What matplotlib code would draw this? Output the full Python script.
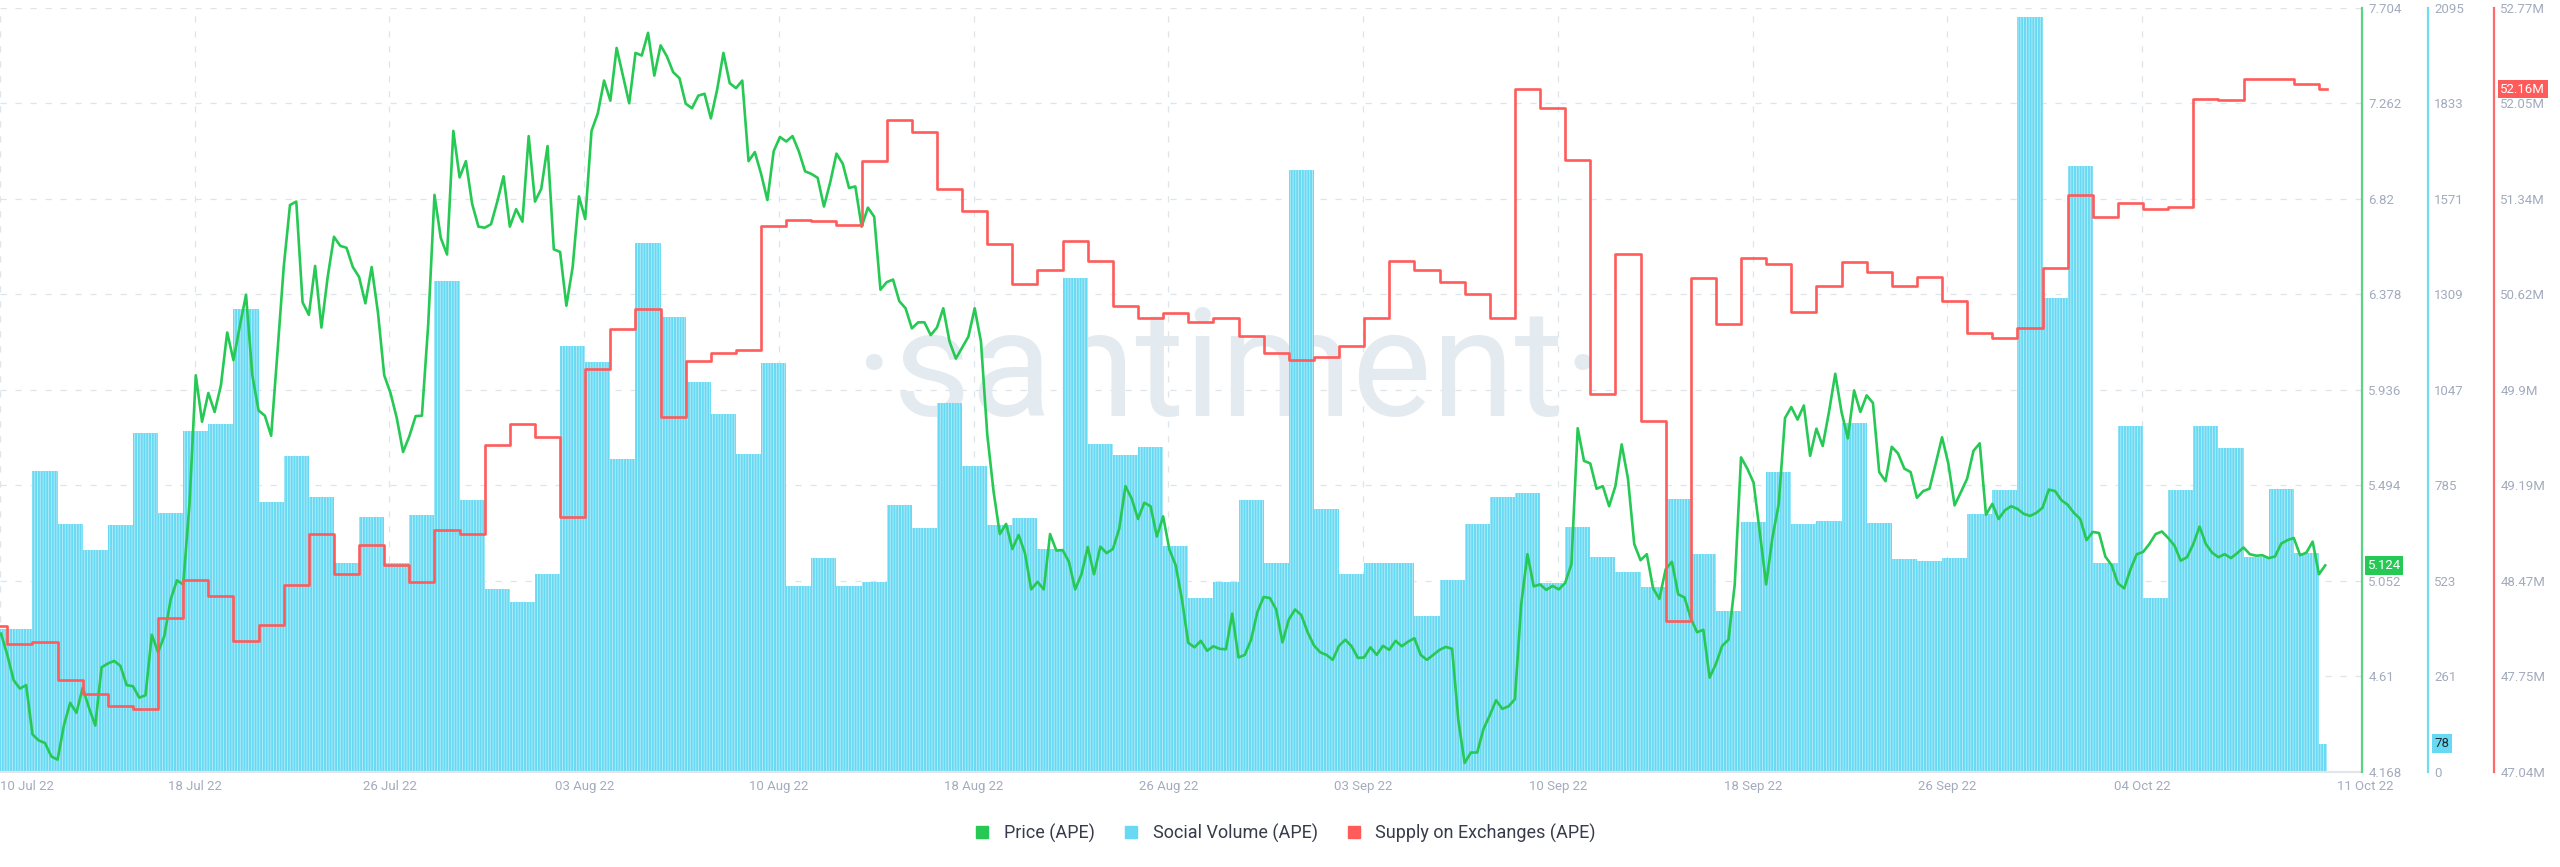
import numpy as np
import pandas as pd
import matplotlib
matplotlib.use("Agg")
import matplotlib.pyplot as plt
import matplotlib.dates as mdates
from matplotlib.lines import Line2D

plt.rcParams['font.family'] = ['Roboto', 'DejaVu Sans']
plt.rcParams['hatch.linewidth'] = 0.6

# social volume (APE), one value per day, 10 Jul 2022 .. 11 Oct 2022 (last day partial)
social_start = "2022-07-10"
social_end = "2022-10-11 08:00"
social_volume = [
    392, 392, 825, 680, 609, 677, 929, 710, 935, 954, 1269, 740, 866, 754, 573, 699,
    573, 705, 1346, 746, 502, 466,
    543, 1168, 1124, 858, 1451, 1248, 1069, 982, 872, 1121, 510, 587, 510, 521, 732,
    669, 1012, 839, 677, 697, 611, 1355, 899, 869, 891, 620, 477, 521, 746, 573, 1651,
    721, 543, 573, 573, 428, 526, 680, 754, 765, 518, 672, 590, 548, 507, 749, 598,
    441, 686, 823, 680, 688, 957, 683, 584, 579, 587, 707, 773, 2071, 1300,
    1661, 573, 949, 477, 773, 949, 888, 590, 776, 600, 78,
]

# supply on exchanges (APE), millions, same days
supply = [
    48.13, 48.00, 48.01, 47.73, 47.62, 47.53, 47.51, 48.19, 48.48, 48.36, 48.02, 48.14,
    48.44, 48.82, 48.52, 48.74, 48.59, 48.46, 48.85, 48.82, 49.49, 49.65,
    49.55, 48.95, 50.06, 50.36, 50.51, 49.70, 50.12, 50.18, 50.20, 51.13, 51.18, 51.17,
    51.14, 51.62, 51.93, 51.84, 51.41, 51.25, 51.00, 50.70, 50.80, 51.02, 50.87, 50.53,
    50.44, 50.48, 50.41, 50.44, 50.31, 50.18, 50.13,
    50.15, 50.23, 50.44, 50.87, 50.80, 50.71, 50.62, 50.44, 52.16, 52.02, 51.63, 49.87,
    50.92, 49.67, 48.17, 50.74, 50.40, 50.89, 50.85, 50.49, 50.68, 50.86, 50.79, 50.68,
    50.75, 50.57, 50.33, 50.29, 50.37, 50.82,
    51.37, 51.20, 51.31, 51.26, 51.28, 52.09, 52.08, 52.24, 52.24, 52.20, 52.16,
]

# price (APE) in USD, every 6 hours from 10 Jul 2022 18:00
price_start = "2022-07-10 18:00"
price = [
    4.808, 4.710, 4.593, 4.554, 4.570, 4.342, 4.314, 4.302, 4.240, 4.225,
    4.383, 4.488, 4.442, 4.558, 4.465, 4.383, 4.652, 4.670, 4.682, 4.659,
    4.570, 4.565, 4.512, 4.523, 4.803, 4.722, 4.798, 4.966, 5.055, 5.036,
    5.409, 6.004, 5.789, 5.922, 5.834, 5.957, 6.202, 6.074, 6.230, 6.377,
    6.004, 5.841, 5.817, 5.724, 6.109, 6.505, 6.792, 6.808, 6.342, 6.284,
    6.510, 6.225, 6.459, 6.645, 6.603, 6.594, 6.505, 6.459, 6.337, 6.505,
    6.295, 6.004, 5.922, 5.806, 5.649, 5.722, 5.815, 5.817, 6.237, 6.839,
    6.640, 6.563, 7.135, 6.920, 6.995, 6.797, 6.692, 6.687, 6.703, 6.808,
    6.925, 6.692, 6.773, 6.715, 7.111, 6.808, 6.867, 7.065, 6.587, 6.575,
    6.326, 6.505, 6.832, 6.727, 7.135, 7.216, 7.368, 7.275, 7.519, 7.391,
    7.263, 7.496, 7.484, 7.589, 7.391, 7.531, 7.480, 7.407, 7.379, 7.261,
    7.240, 7.298, 7.307, 7.193, 7.326, 7.496, 7.356, 7.333, 7.368, 6.995,
    7.037, 6.936, 6.815, 7.041, 7.107, 7.086, 7.111, 7.041, 6.948, 6.936,
    6.918, 6.785, 6.897, 7.030, 6.983, 6.871, 6.878, 6.692, 6.780, 6.738,
    6.400, 6.435, 6.447, 6.347, 6.314, 6.221, 6.249, 6.249, 6.190, 6.225,
    6.314, 6.160, 6.081, 6.132, 6.183, 6.314, 6.160, 5.731, 5.468, 5.269,
    5.316, 5.200, 5.265, 5.181, 5.013, 5.048, 5.013, 5.269, 5.193, 5.195,
    5.141, 5.013, 5.083, 5.209, 5.083, 5.211, 5.181, 5.200, 5.293, 5.491,
    5.433, 5.339, 5.414, 5.398, 5.258, 5.351, 5.197, 5.125, 4.966, 4.766,
    4.745, 4.775, 4.729, 4.750, 4.738, 4.736, 4.901, 4.698, 4.710, 4.780,
    4.908, 4.978, 4.973, 4.920, 4.768, 4.873, 4.920, 4.894, 4.815, 4.754,
    4.722, 4.710, 4.687, 4.752, 4.780, 4.750, 4.696, 4.698, 4.745, 4.710,
    4.752, 4.733, 4.775, 4.750, 4.771, 4.787, 4.710, 4.687, 4.710, 4.733,
    4.747, 4.738, 4.407, 4.210, 4.258, 4.258, 4.367, 4.430, 4.500, 4.460,
    4.472, 4.505, 4.943, 5.176, 5.027, 5.036, 5.011, 5.029, 5.013, 5.043,
    5.130, 5.759, 5.608, 5.596, 5.479, 5.491, 5.398, 5.491, 5.684, 5.526,
    5.223, 5.148, 5.176, 5.018, 4.969, 5.106, 5.141, 4.990, 4.976, 4.880,
    4.815, 4.826, 4.605, 4.668, 4.752, 4.780, 5.036, 5.624, 5.572, 5.507,
    5.274, 5.036, 5.253, 5.409, 5.806, 5.857, 5.799, 5.864, 5.631, 5.757,
    5.677, 5.834, 6.011, 5.834, 5.712, 5.934, 5.834, 5.911, 5.876, 5.556,
    5.514, 5.673, 5.642, 5.572, 5.556, 5.437, 5.468, 5.479, 5.596, 5.717,
    5.596, 5.402, 5.463, 5.526, 5.654, 5.689, 5.358, 5.409, 5.339, 5.379,
    5.398, 5.386, 5.363, 5.353, 5.367, 5.391, 5.475, 5.468, 5.426, 5.405,
    5.367, 5.339, 5.241, 5.279, 5.274, 5.165, 5.125, 5.041, 5.018, 5.106,
    5.176, 5.186, 5.223, 5.269, 5.281, 5.251, 5.216, 5.146, 5.162, 5.223,
    5.304, 5.223, 5.183, 5.162, 5.176, 5.158, 5.181, 5.207, 5.176, 5.169,
    5.171, 5.158, 5.165, 5.225, 5.241, 5.251, 5.171, 5.183, 5.234, 5.083,
    5.124,
]

date_labels = ["10 Jul 22", "18 Jul 22", "26 Jul 22", "03 Aug 22", "10 Aug 22",
               "18 Aug 22", "26 Aug 22", "03 Sep 22", "10 Sep 22", "18 Sep 22",
               "26 Sep 22", "04 Oct 22", "11 Oct 22"]

GREEN = '#26c953'
CYAN = '#68d9f3'
RED = '#ff5b5b'
TICK = '#a3abbd'
GRID = '#dde5eb'

fig = plt.figure(figsize=(25.6, 8.67), dpi=100)
ax = fig.add_axes([0.0, 0.1096, 0.9227, 0.8812])
ax_p = ax.twinx()
ax_s = ax.twinx()

# social volume bars (daily)
days = pd.date_range(social_start, periods=len(social_volume), freq='D')
widths = np.ones(len(days))
widths[-1] = (pd.Timestamp(social_end) - days[-1]) / pd.Timedelta('1D')
ax.bar(mdates.date2num(days), social_volume, width=widths, align='edge',
       color=CYAN, edgecolor='#b8edfa', linewidth=0, hatch='||||||', zorder=2)

# supply step line
sx = mdates.date2num(list(days) + [pd.Timestamp(social_end)])
sy = supply + [supply[-1]]
ax_s.plot(sx, sy, drawstyle='steps-post', color=RED, lw=1.9)

# price
ptimes = pd.date_range(price_start, periods=len(price), freq='6h')
ax_p.plot(mdates.date2num(ptimes), price, color=GREEN, lw=1.9, solid_joinstyle='round')

x0 = mdates.date2num(pd.Timestamp('2022-07-10 17:00'))
x1 = mdates.date2num(pd.Timestamp('2022-10-12 17:15'))
ax.set_xlim(x0, x1)
xt = np.linspace(x0, mdates.date2num(pd.Timestamp('2022-10-11 17:15')), len(date_labels))
ax.set_xticks(xt)
ax.set_xticklabels(date_labels)
lbls = ax.get_xticklabels()
lbls[0].set_ha('left')
lbls[-1].set_ha('left')
ax.tick_params(axis='x', length=0, pad=6, labelsize=9.5, labelcolor=TICK)

# y axes
ax.set_ylim(0, 2095)
yt = np.linspace(0, 2095, 9)
ax.set_yticks(yt)
ax.set_yticklabels([str(int(v)) for v in yt])

ax_p.set_ylim(4.168, 7.704)
pt = np.linspace(4.168, 7.704, 9)
ax_p.set_yticks(pt)
ax_p.set_yticklabels([f"{round(v, 3):g}" for v in pt])

ax_s.set_ylim(47.036, 52.77)
st = np.linspace(47.036, 52.77, 9)
ax_s.set_yticks(st)
ax_s.set_yticklabels([f"{v:.2f}".rstrip('0') + 'M' for v in st])

ax.yaxis.tick_right()
for a in (ax, ax_p, ax_s):
    a.tick_params(axis='y', length=0, pad=4.5, labelsize=9.5, labelcolor=TICK)
    for side in ('left', 'top'):
        a.spines[side].set_visible(False)
    a.spines['bottom'].set_visible(False)
    a.patch.set_visible(False)

ax.spines['bottom'].set_visible(True)
ax.spines['bottom'].set_color('#e2e6ea')
ax.spines['bottom'].set_linewidth(1.5)

ax_p.spines['right'].set_color('#5bd384')
ax_p.spines['right'].set_linewidth(1.6)
ax.spines['right'].set_position(('outward', 47.5))
ax.spines['right'].set_color('#6fdcf5')
ax.spines['right'].set_linewidth(1.6)
ax_s.spines['right'].set_position(('outward', 95))
ax_s.spines['right'].set_color('#ff6b6b')
ax_s.spines['right'].set_linewidth(1.6)

ax.set_axisbelow(True)
ax.grid(True, color=GRID, linestyle=(0, (5, 7)), linewidth=0.9)
ax.get_xgridlines()[-1].set_visible(False)

# watermark
ax.text(0.52, 0.52, "·santiment·", transform=ax.transAxes, ha='center', va='center',
        fontsize=108, color='#e4ebf0', fontweight='normal', zorder=1)

# last value tags
tag = dict(xycoords=('axes fraction', 'data'), textcoords='offset points',
           ha='left', va='center', fontsize=9.5, annotation_clip=False, zorder=10)
ax_p.annotate(f"{price[-1]:.3f}", xy=(1, price[-1]), xytext=(4.0, 0), color='white',
              bbox=dict(boxstyle='square,pad=0.2', fc=GREEN, ec='none'), **tag)
ax.annotate(f"{social_volume[-1]}", xy=(1, social_volume[-1]), xytext=(52.0, 0),
            color='#222831', bbox=dict(boxstyle='square,pad=0.2', fc=CYAN, ec='none'), **tag)
ax_s.annotate(f"{supply[-1]:.2f}M", xy=(1, supply[-1]), xytext=(99.5, 0), color='white',
              bbox=dict(boxstyle='square,pad=0.2', fc=RED, ec='none'), **tag)

handles = [Line2D([], [], marker='s', ls='', color=c, markersize=9)
           for c in (GREEN, CYAN, RED)]
fig.legend(handles, ["Price (APE)", "Social Volume (APE)", "Supply on Exchanges (APE)"],
           loc='center', bbox_to_anchor=(0.5, 0.039), ncol=3, frameon=False, fontsize=13,
           handletextpad=0.2, columnspacing=1.0, labelcolor='#363c4a')

fig.savefig("out.png", dpi=100)
